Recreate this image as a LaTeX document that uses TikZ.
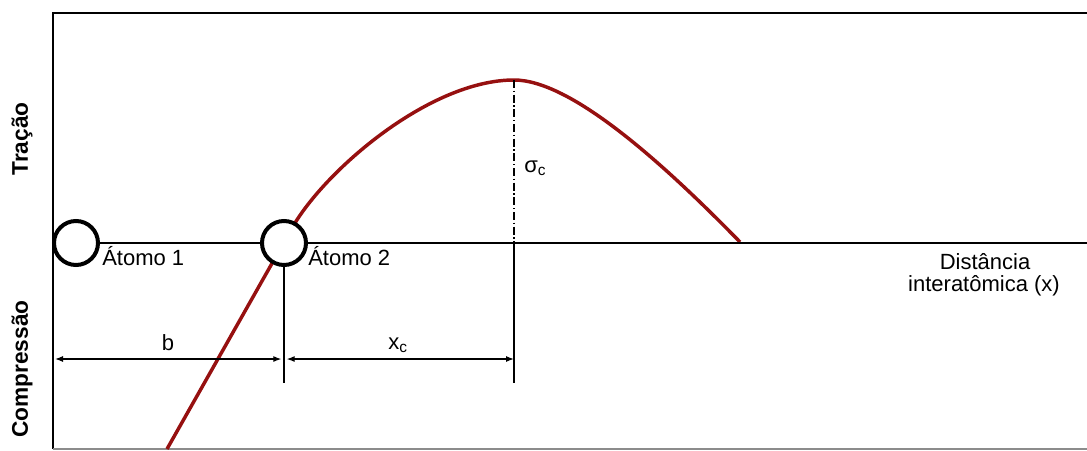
\documentclass[tikz,border=0pt]{standalone}
\usepackage{fontspec}
\setmainfont{Liberation Sans}
\usepackage{xcolor}
\usepackage{tikz}
\usetikzlibrary{arrows.meta,calc}

\definecolor{curvered}{RGB}{150,16,16}

\tikzset{
  atom/.style={circle,draw,fill=white,line width=3pt,minimum size=33pt,inner sep=0pt},
  lbl/.style={inner sep=0.75pt,font=\fontsize{16.5}{18}\selectfont},
  sidelbl/.style={inner sep=0.75pt,rotate=90,font=\fontsize{17}{18}\selectfont\bfseries},
  dimline/.style={line width=0.9pt,{Latex[length=6pt,width=4.5pt]}-{Latex[length=6pt,width=4.5pt]}}
}

\begin{document}
\begin{tikzpicture}[x=0.75pt,y=0.75pt,yscale=-1,xscale=1]
			\useasboundingbox (0,0) rectangle (1087,450);
			
			%Shape: Frame
			\draw [line width=1.9]  (53,449) -- (53,13) -- (1087,13) ;
			\draw [color={rgb, 255:red, 140; green, 140; blue, 140 }  ,line width=1.2]  (53,449) -- (1087,449) ;
			
			% Peak and guide points
			\coordinate (peak) at (514,80);
			\coordinate (peakFoot) at (514,243);
			\coordinate (peakLow) at (514,383);
			\coordinate (atomLow) at (284,383);
			\coordinate (axisEnd) at (1087,243);
			
			%Curve
			\draw [color=curvered,line width=2.6]  (167,449) -- (292,228) .. controls (325,170) and (430,80) .. (peak) .. controls (570,80) and (660,160) .. (740,242) ;
			
			% Atoms
			\node [atom] (atomA) at (76,243) {};
			\node [atom] (atomB) at (284,243) {};
			
			%Straight Lines: axis
			\draw [line width=1.1]  (atomA.east) -- (atomB.west) ;
			\draw [line width=1.1]  (atomB.east) -- (axisEnd) ;
			
			% Guide lines
			\draw [line width=0.9,dash pattern=on 6pt off 2pt on 1pt off 2pt]  (peak) -- (peakFoot) ;
			\draw [line width=0.9]  (peakFoot) -- (peakLow) ;
			\draw [line width=0.9]  (atomB.south) -- (atomLow) ;
			
			% Dimension lines
			\coordinate (dimL) at (53,359);
			\coordinate (dimM) at (284,359);
			\coordinate (dimR) at (514,359);
			\draw [dimline,shorten <=1.5pt,shorten >=2pt]  (dimL) -- (dimM) ;
			\draw [dimline,shorten <=2pt,shorten >=0pt]  (dimM) -- (dimR) ;
			
			% Text Node
			\node [lbl,anchor=base west] (atomAlbl) at (101,265) {Átomo 1};
			% Text Node
			\node [lbl,anchor=base west] (atomBlbl) at (307,265) {Átomo 2};
			% Text Node
			\node [lbl,anchor=base] (blbl) at (168,350) {b};
			% Text Node
			\node [lbl,anchor=base] (xclbl) at (398,349) {x\textsubscript{c}};
			% Text Node
			\node [lbl,anchor=base west] (sigmalbl) at (523,172) {σ\textsubscript{c}};
			% Text Node
			\node [lbl,anchor=base] (distlbl) at (985,269) {Distância};
			\node [lbl,anchor=base] (interlbl) at (984,291) {interatômica (x)};
			% Text Node
			\node [sidelbl] (tracaolbl) at (22,139) {Tração};
			% Text Node
			\node [sidelbl] (compresslbl) at (22,369) {Compressão};
			
\end{tikzpicture}
\end{document}
